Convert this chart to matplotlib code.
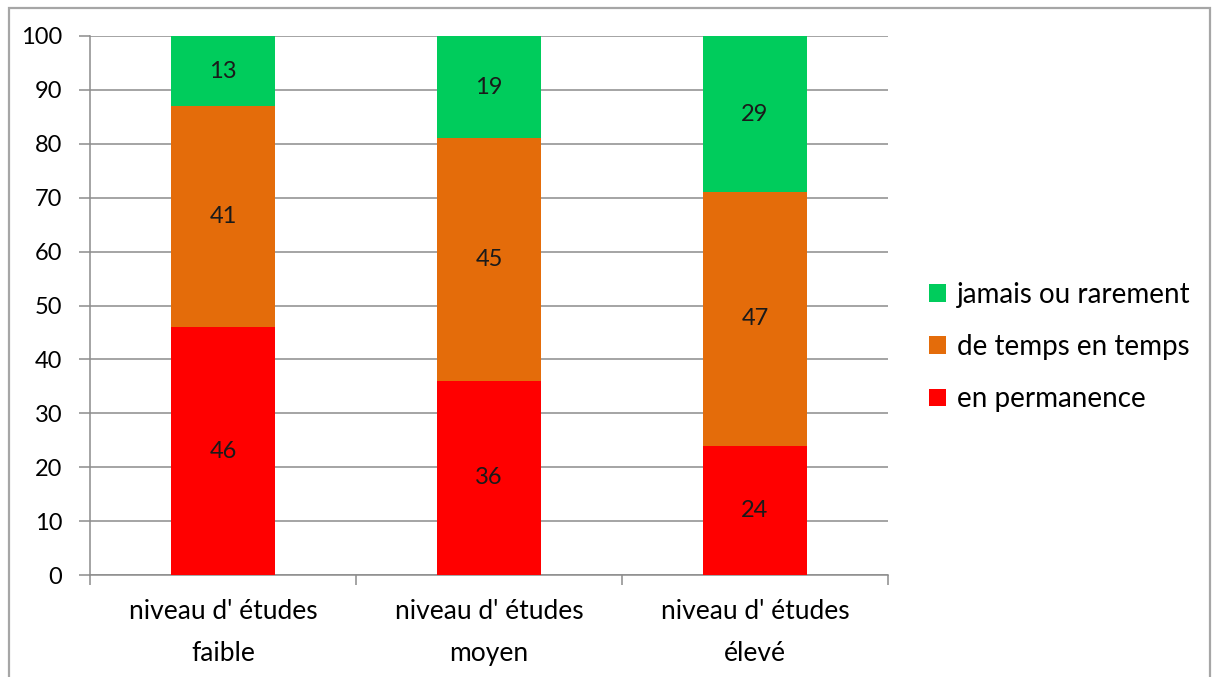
import numpy as np
import matplotlib.pyplot as plt
from matplotlib.patches import Rectangle

plt.rcParams['font.family'] = ['Lato', 'DejaVu Sans']

categories = ["niveau d' études\nfaible", "niveau d' études\nmoyen", "niveau d' études\nélevé"]
series_names = ['en permanence', 'de temps en temps', 'jamais ou rarement']
permanence = [46, 36, 24]
temps = [41, 45, 47]
jamais = [13, 19, 29]
colors = ['#FF0000', '#E46C0A', '#00CC5C']

fig = plt.figure(figsize=(12.12, 6.77), dpi=100)
ax = fig.add_axes([90/1212, 1-575/677, (888-90)/1212, (575-36)/677])

# outer chart border
fig.patches.append(Rectangle((9/1212, -0.05), 1201/1212, 1.05-8/677, transform=fig.transFigure,
                             fill=False, edgecolor='#A6A6A6', lw=1.6, zorder=0))

x = np.arange(len(categories))
bottom = np.zeros(len(categories))
bars = []
for name, vals, c in zip(series_names, [permanence, temps, jamais], colors):
    b = ax.bar(x, vals, 0.39, bottom=bottom, color=c, label=name, zorder=3)
    for xi, v, bt in zip(x, vals, bottom):
        ax.text(xi, bt + v/2, str(v), ha='center', va='center', fontsize=17, color='#1a1a1a', zorder=4)
    bottom += np.array(vals)
    bars.append(b)

ax.set_xlim(-0.5, 2.5)
ax.set_ylim(0, 100)
ax.set_yticks(np.arange(0, 101, 10))
ax.yaxis.grid(True, color='#8C8C8C', lw=1.1, zorder=0)
ax.set_xticks([-0.5, 0.5, 1.5, 2.5])
ax.set_xticklabels([])
ax.set_xticks(x, minor=True)
ax.set_xticklabels(categories, minor=True, fontsize=19, linespacing=1.85)
ax.tick_params(axis='x', which='minor', length=0, pad=17)
ax.tick_params(axis='x', which='major', length=7, direction='out', color='#8C8C8C', width=1.1)
ax.tick_params(axis='y', length=8, color='#8C8C8C', width=1.1, labelsize=17, pad=12)
for s in ['top', 'right']:
    ax.spines[s].set_visible(False)
for s in ['left', 'bottom']:
    ax.spines[s].set_color('#8C8C8C')
    ax.spines[s].set_linewidth(1.1)

handles = bars[::-1]
leg = fig.legend(handles, series_names[::-1], loc='center left', bbox_to_anchor=(904/1212, 1-347/677),
                 frameon=False, fontsize=20, handlelength=0.6, handleheight=0.6,
                 handletextpad=0.4, labelspacing=0.95)

fig.savefig('out.png', dpi=100)
